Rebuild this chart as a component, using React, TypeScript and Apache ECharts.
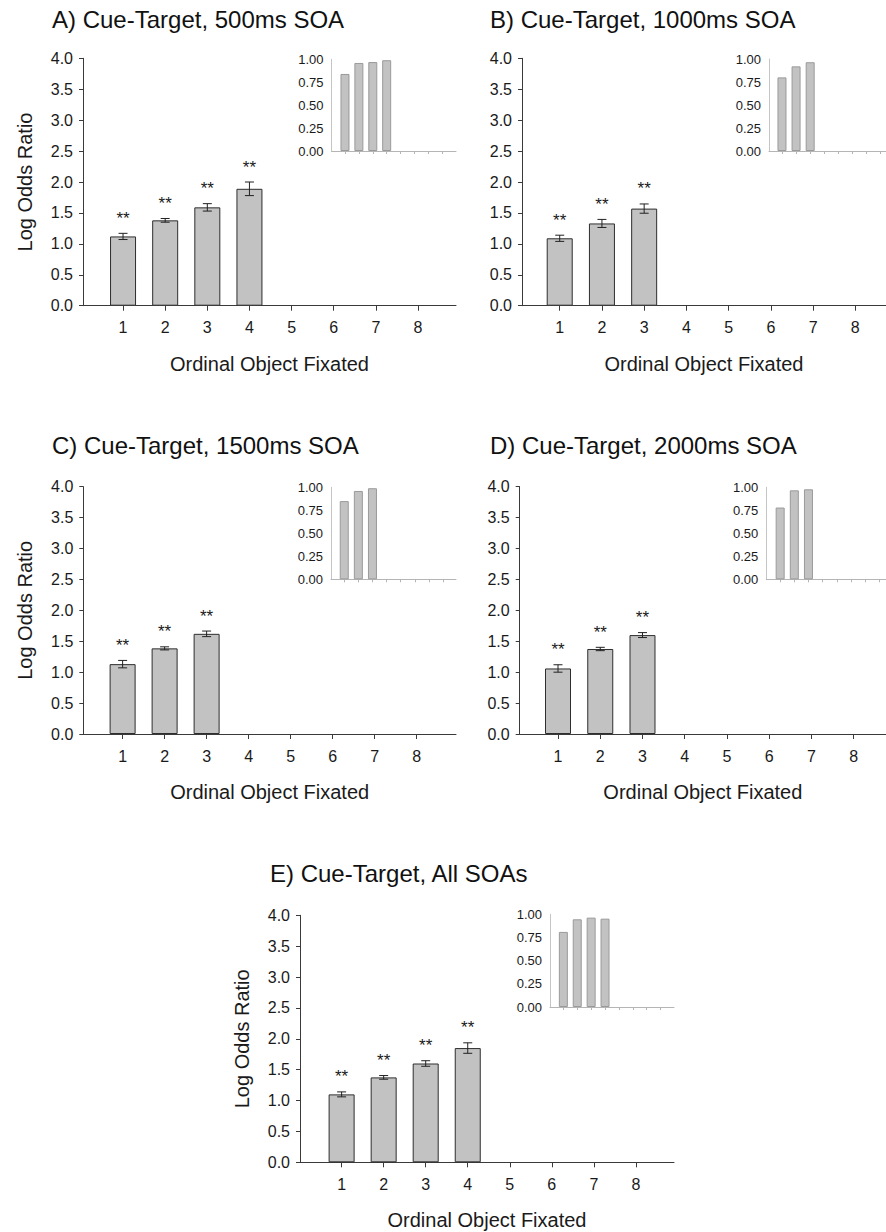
import React, { useEffect, useRef } from "react";
import * as echarts from "echarts";

// ---------- data ----------
const xTicks = [1, 2, 3, 4, 5, 6, 7, 8];

const aLogOdds = [1.12, 1.38, 1.59, 1.89];
const aErr = [0.05, 0.03, 0.06, 0.11];
const aSig = ["**", "**", "**", "**"];
const aProp = [0.84, 0.96, 0.97, 0.99];

const bLogOdds = [1.09, 1.33, 1.57];
const bErr = [0.05, 0.065, 0.075];
const bSig = ["**", "**", "**"];
const bProp = [0.8, 0.92, 0.965];

const cLogOdds = [1.13, 1.385, 1.62];
const cErr = [0.06, 0.025, 0.045];
const cSig = ["**", "**", "**"];
const cProp = [0.85, 0.96, 0.99];

const dLogOdds = [1.06, 1.375, 1.6];
const dErr = [0.06, 0.027, 0.04];
const dSig = ["**", "**", "**"];
const dProp = [0.78, 0.967, 0.978];

const eLogOdds = [1.1, 1.375, 1.6, 1.85];
const eErr = [0.04, 0.03, 0.045, 0.085];
const eSig = ["**", "**", "**", "**"];
const eProp = [0.81, 0.946, 0.964, 0.953];

const titles = [
  "A) Cue-Target, 500ms SOA",
  "B) Cue-Target, 1000ms SOA",
  "C) Cue-Target, 1500ms SOA",
  "D) Cue-Target, 2000ms SOA",
  "E) Cue-Target, All SOAs",
];
const yAxisName = "Log Odds Ratio";
const xAxisName = "Ordinal Object Fixated";

// ---------- layout ----------
const FONT = "'Liberation Sans', Arial, Helvetica, sans-serif";

const panels = [
  {
    vals: aLogOdds, err: aErr, sig: aSig, prop: aProp, yName: true,
    tx: 52, ty: 19,
    main: { left: 83, top: 58.3, bottom: 305.7, right: 456, min: 0.05, unit: 42.14 },
    inset: { left: 331.5, top: 59.3, bottom: 151, right: 456, min: 0.03, unit: 13.9 },
  },
  {
    vals: bLogOdds, err: bErr, sig: bSig, prop: bProp, yName: false,
    tx: 490, ty: 19,
    main: { left: 522, top: 58.3, bottom: 305.7, right: 886, min: 0.107, unit: 42.23 },
    inset: { left: 769, top: 59, bottom: 151, right: 886, min: 0.08, unit: 14.1 },
  },
  {
    vals: cLogOdds, err: cErr, sig: cSig, prop: cProp, yName: true,
    tx: 52, ty: 445,
    main: { left: 83.3, top: 486.7, bottom: 734, right: 456, min: 0.064, unit: 42.0 },
    inset: { left: 331, top: 487.3, bottom: 579.3, right: 456, min: 0.06, unit: 14.1 },
  },
  {
    vals: dLogOdds, err: dErr, sig: dSig, prop: dProp, yName: false,
    tx: 490, ty: 445,
    main: { left: 519.7, top: 486.7, bottom: 734, right: 886, min: 0.093, unit: 42.24 },
    inset: { left: 766.3, top: 487.3, bottom: 579.3, right: 886, min: 0.02, unit: 14.15 },
  },
  {
    vals: eLogOdds, err: eErr, sig: eSig, prop: eProp, yName: true,
    tx: 270, ty: 873.5,
    main: { left: 300, top: 915.3, bottom: 1162.3, right: 674, min: 0.01, unit: 42.04 },
    inset: { left: 550, top: 914.3, bottom: 1007, right: 674, min: 0.04, unit: 13.9 },
  },
];

function buildOption() {
  const grid: any[] = [];
  const xAxis: any[] = [];
  const yAxis: any[] = [];
  const series: any[] = [];
  const graphic: any[] = [];

  panels.forEach((p, i) => {
    const m = p.main;
    const s = p.inset;
    const gi = grid.length;
    // main grid
    grid.push({
      left: m.left, top: m.top, width: m.right - m.left, height: m.bottom - m.top,
      containLabel: false, outerBoundsMode: "none",
    });
    xAxis.push({
      gridIndex: gi, type: "value",
      min: m.min, max: m.min + (m.right - m.left) / m.unit,
      name: xAxisName, nameLocation: "middle", nameGap: 48,
      nameTextStyle: { fontSize: 20, color: "#1a1a1a", fontFamily: FONT },
      axisLine: { show: true, onZero: false, lineStyle: { color: "#3a3a3a", width: 1 } },
      axisTick: { show: true, customValues: xTicks, length: 5, lineStyle: { color: "#3a3a3a" } },
      axisLabel: {
        show: true, customValues: xTicks, margin: 14, fontSize: 16, color: "#1a1a1a", fontFamily: FONT,
        formatter: (v: number) => String(Math.round(v)),
      },
      splitLine: { show: false },
    });
    yAxis.push({
      gridIndex: gi, type: "value", min: 0, max: 4, interval: 0.5,
      name: p.yName ? yAxisName : "", nameLocation: "middle", nameGap: 48,
      nameTextStyle: { fontSize: 20, color: "#1a1a1a", fontFamily: FONT },
      axisLine: { show: true, lineStyle: { color: "#3a3a3a", width: 1 } },
      axisTick: { show: true, length: 4, lineStyle: { color: "#3a3a3a" } },
      axisLabel: {
        margin: 10, fontSize: 16, color: "#1a1a1a", fontFamily: FONT,
        formatter: (v: number) => v.toFixed(1),
      },
      splitLine: { show: false },
    });
    series.push({
      type: "bar", xAxisIndex: gi, yAxisIndex: gi, barWidth: 26,
      data: p.vals.map((v, k) => [xTicks[k], v]),
      itemStyle: { color: "#c2c2c2", borderColor: "#2e2e2e", borderWidth: 1 },
      z: 2,
    });
    series.push({
      type: "custom", xAxisIndex: gi, yAxisIndex: gi, z: 5,
      data: p.vals.map((v, k) => [xTicks[k], v, p.err[k]]),
      renderItem: (params: any, api: any) => {
        const x = api.value(0);
        const v = api.value(1);
        const e = api.value(2);
        const idx = params.dataIndex;
        const top = api.coord([x, v + e]);
        const bot = api.coord([x, v - e]);
        const cap = 4.5;
        const st = { stroke: "#222", lineWidth: 1 };
        return {
          type: "group",
          children: [
            { type: "line", shape: { x1: top[0], y1: top[1], x2: bot[0], y2: bot[1] }, style: st },
            { type: "line", shape: { x1: top[0] - cap, y1: top[1], x2: top[0] + cap, y2: top[1] }, style: st },
            { type: "line", shape: { x1: bot[0] - cap, y1: bot[1], x2: bot[0] + cap, y2: bot[1] }, style: st },
            {
              type: "text",
              style: {
                text: p.sig[idx], x: top[0], y: top[1] - 15,
                align: "center", verticalAlign: "middle",
                fontSize: 17, fontFamily: FONT, fill: "#1a1a1a",
              },
            },
          ],
        };
      },
    });

    // inset grid
    const ii = grid.length;
    grid.push({
      left: s.left, top: s.top, width: s.right - s.left, height: s.bottom - s.top,
      containLabel: false, outerBoundsMode: "none",
    });
    xAxis.push({
      gridIndex: ii, type: "value",
      min: s.min, max: s.min + (s.right - s.left) / s.unit,
      axisLine: { show: true, onZero: false, lineStyle: { color: "#b5b5b5", width: 1 } },
      axisTick: { show: true, customValues: xTicks, length: 3, lineStyle: { color: "#b5b5b5" } },
      axisLabel: { show: false },
      splitLine: { show: false },
    });
    yAxis.push({
      gridIndex: ii, type: "value", min: 0, max: 1, interval: 0.25,
      axisLine: { show: true, lineStyle: { color: "#c5c5c5", width: 1 } },
      axisTick: { show: false },
      axisLabel: {
        margin: 8, fontSize: 13, color: "#1a1a1a", fontFamily: FONT,
        formatter: (v: number) => v.toFixed(2),
      },
      splitLine: { show: false },
    });
    series.push({
      type: "bar", xAxisIndex: ii, yAxisIndex: ii, barWidth: 9,
      data: p.prop.map((v, k) => [xTicks[k], v]),
      itemStyle: { color: "#c2c2c2", borderColor: "#9a9a9a", borderWidth: 1 },
      z: 2,
    });

    graphic.push({
      type: "text", x: p.tx, y: p.ty,
      style: {
        text: titles[i], x: 0, y: 0, align: "left", verticalAlign: "middle",
        fontSize: 24, fontFamily: FONT, fill: "#111",
      },
    });
  });

  return {
    animation: false,
    backgroundColor: "#ffffff",
    grid, xAxis, yAxis, series, graphic,
  };
}

export default function App() {
  const ref = useRef<HTMLDivElement>(null);
  useEffect(() => {
    if (!ref.current) return;
    const chart = echarts.init(ref.current, undefined, { renderer: "svg" });
    chart.setOption(buildOption() as any);
    return () => chart.dispose();
  }, []);
  return (
    <div
      ref={ref}
      style={{ position: "absolute", left: 0, top: 0, width: 886, height: 1232, background: "#fff" }}
    />
  );
}
